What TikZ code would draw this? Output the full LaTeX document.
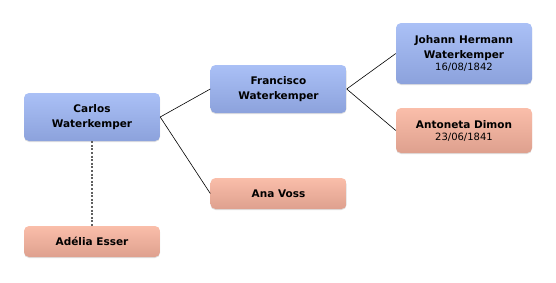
\documentclass[tikz,border=0pt]{standalone}
\usepackage{fontspec}
\setmainfont{DejaVu Sans}
\usepackage{tikz}
\usetikzlibrary{shadows}
\usepackage{xcolor}
\definecolor{maletop}{RGB}{170,192,246}
\definecolor{malebot}{RGB}{140,162,220}
\definecolor{femtop}{RGB}{250,190,170}
\definecolor{fembot}{RGB}{222,160,142}
\newcommand{\bornfont}{\fontsize{10}{11}\selectfont}

\begin{document}
\begin{tikzpicture}[
    x=1pt, y=-1pt,
    font=\fontsize{10.5}{15}\selectfont,
    link/.style={line width=0.6pt, black},
    partner/.style={line width=1.3pt, gray!75!black, dash pattern=on 2pt off 1.6pt},
    person/.style={rounded corners=5pt, minimum width=136pt, align=center,
                   inner sep=2pt, text=black,
                   drop shadow={shadow xshift=0pt, shadow yshift=-1pt, opacity=0.25}},
    male/.style={person, top color=maletop, bottom color=malebot},
    female/.style={person, top color=femtop, bottom color=fembot},
]
\useasboundingbox (0,0) rectangle (556,282);

%% ── people ───────────────────────────────────────────────────
\node[male,   minimum height=48pt] (carlos)    at (92,117)   {\textbf{Carlos}\\\textbf{Waterkemper}};
\node[female, minimum height=31pt] (adelia)    at (92,241.5) {\textbf{Adélia Esser}};
\node[male,   minimum height=48pt] (francisco) at (278.5,89) {\textbf{Francisco}\\\textbf{Waterkemper}};
\node[female, minimum height=31pt] (ana)       at (278.5,193.5) {\textbf{Ana Voss}};
\node[male,   minimum height=61pt] (johann)    at (464,53.5) {\textbf{Johann Hermann}\\\textbf{Waterkemper}\\[-3pt]{\bornfont 16/08/1842}};
\node[female, minimum height=45pt] (antoneta)  at (464,130.5) {\textbf{Antoneta Dimon}\\[-3pt]{\bornfont 23/06/1841}};

%% ── links ────────────────────────────────────────────────────
\draw[partner] (carlos.south) -- (adelia.north);
\draw[link] (carlos.east) -- (francisco.west);
\draw[link] (carlos.east) -- (ana.west);
\draw[link] (francisco.east) -- (johann.west);
\draw[link] (francisco.east) -- (antoneta.west);

\end{tikzpicture}
\end{document}
